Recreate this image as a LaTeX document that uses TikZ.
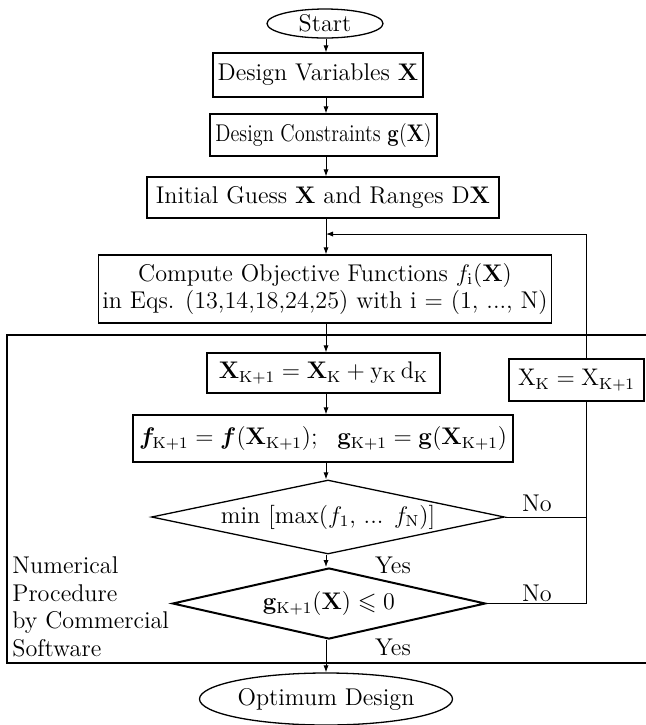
\documentclass[tikz,border=0pt]{standalone}
\usepackage{graphicx}
\usepackage{amsmath}
\usepackage{amssymb}
\usepackage{bm}
\usetikzlibrary{positioning, arrows.meta, shapes.geometric}

\begin{document}
\begin{tikzpicture}[
      x=0.5pt, y=-0.5pt,
      font=\fontsize{12.1}{13.9}\selectfont,
      proc/.style={draw, line width=0.65pt, inner xsep=2pt, inner ysep=1pt, align=center},
      term/.style={draw, ellipse, line width=0.65pt, inner sep=0.5pt},
      decision/.style={draw, diamond, aspect=4.5, line width=0.65pt, inner sep=0pt},
      link/.style={line width=0.5pt},
      flow/.style={link, -{Latex[length=3.5pt, width=2.6pt]}}
  ]
    \useasboundingbox (0,0) rectangle (645,725);
    % frame of the numerical procedure
    \draw[line width=0.6pt] (650,335) -- (7,335) -- (7,663) -- (650,663);
    \node[anchor=north west, align=left, inner sep=0pt](soft) at (12,556)
      {Numerical\\Procedure\\by Commercial\\Software};

    \node[term, minimum width=58pt, minimum height=14.5pt](start) at (325,23.5){Start};
    \node[proc, minimum width=105pt, minimum height=22pt](dv) at (318,75){Design Variables $\mathbf{X}$};
    \node[proc, minimum width=113.5pt, minimum height=21pt](dc) at (323.5,135)
      {\scalebox{0.84}[1]{Design Constraints $\mathbf{g}(\mathbf{X})$}};
    \node[proc, minimum width=176pt, minimum height=20.5pt](ig) at (323,197.5){Initial Guess $\mathbf{X}$ and Ranges D$\mathbf{X}$};
    \node[proc, minimum width=224pt, minimum height=34pt](co) at (325,289)
      {Compute Objective Functions $f_{\mathrm{i}}(\mathbf{X})$\\in Eqs. (13,14,18,24,25) with i $=$ (1, ..., N)};
    \node[proc, minimum width=116.5pt, minimum height=20pt](xk1) at (323.5,373)
      {$\mathbf{X}_{\mathrm{K+1}} = \mathbf{X}_{\mathrm{K}} + \mathrm{y}_{\mathrm{K}}\,\mathrm{d}_{\mathrm{K}}$};
    \node[proc, minimum width=67.5pt, minimum height=21pt](xk) at (576.5,380)
      {$\mathrm{X}_{\mathrm{K}} = \mathrm{X}_{\mathrm{K+1}}$};
    \node[proc, minimum width=190pt, minimum height=23.5pt](fk) at (323,438.5)
      {$\bm{f}_{\mathrm{K+1}} = \bm{f}(\mathbf{X}_{\mathrm{K+1}});\ \ \mathbf{g}_{\mathrm{K+1}} = \mathbf{g}(\mathbf{X}_{\mathrm{K+1}})$};
    \node[decision, minimum width=176.5pt, minimum height=37pt](mm) at (328,517)
      {min [max($f_1$, ... $f_{\mathrm{N}}$)]};
    \node[decision, line width=1pt, minimum width=156.5pt, minimum height=35.5pt](gk) at (329,603.5)
      {$\mathbf{g}_{\mathrm{K+1}}(\mathbf{X}) \leqslant 0$};
    \node[term, minimum width=114pt, minimum height=26pt](opt) at (326,699){Optimum Design};

    \coordinate(join) at (326,234);
    \coordinate(rt) at (586,0);

    \draw[flow](start.south -| 326,0) -- (dv.north -| 326,0);
    \draw[flow](dv.south -| 326,0) -- (dc.north -| 326,0);
    \draw[flow](dc.south -| 326,0) -- (ig.north -| 326,0);
    \draw[flow](ig.south -| 326,0) -- (co.north -| 326,0);
    \draw[flow](co.south -| 326,0) -- (xk1.north -| 326,0);
    \draw[flow](xk1.south -| 326,0) -- (fk.north -| 326,0);
    \draw[flow](fk.south -| 326,0) -- (mm.north -| 326,0);
    \draw[flow](mm.south -| 326,0) -- (gk.north -| 326,0);
    \draw[flow](gk.south -| 326,0) -- (opt.north -| 326,0);

    \draw[link](mm.east) -- (mm.east -| rt) -- (xk.south -| rt);
    \draw[link](gk.east) -- (gk.east -| rt) -- (xk.south -| rt);
    \draw[flow](xk.north -| rt) |- (join);

    \node(no1) at (537,503){No};
    \node(no2) at (537,593){No};
    \node(yes1) at (393,565){Yes};
    \node(yes2) at (393,647){Yes};
  \end{tikzpicture}
\end{document}
